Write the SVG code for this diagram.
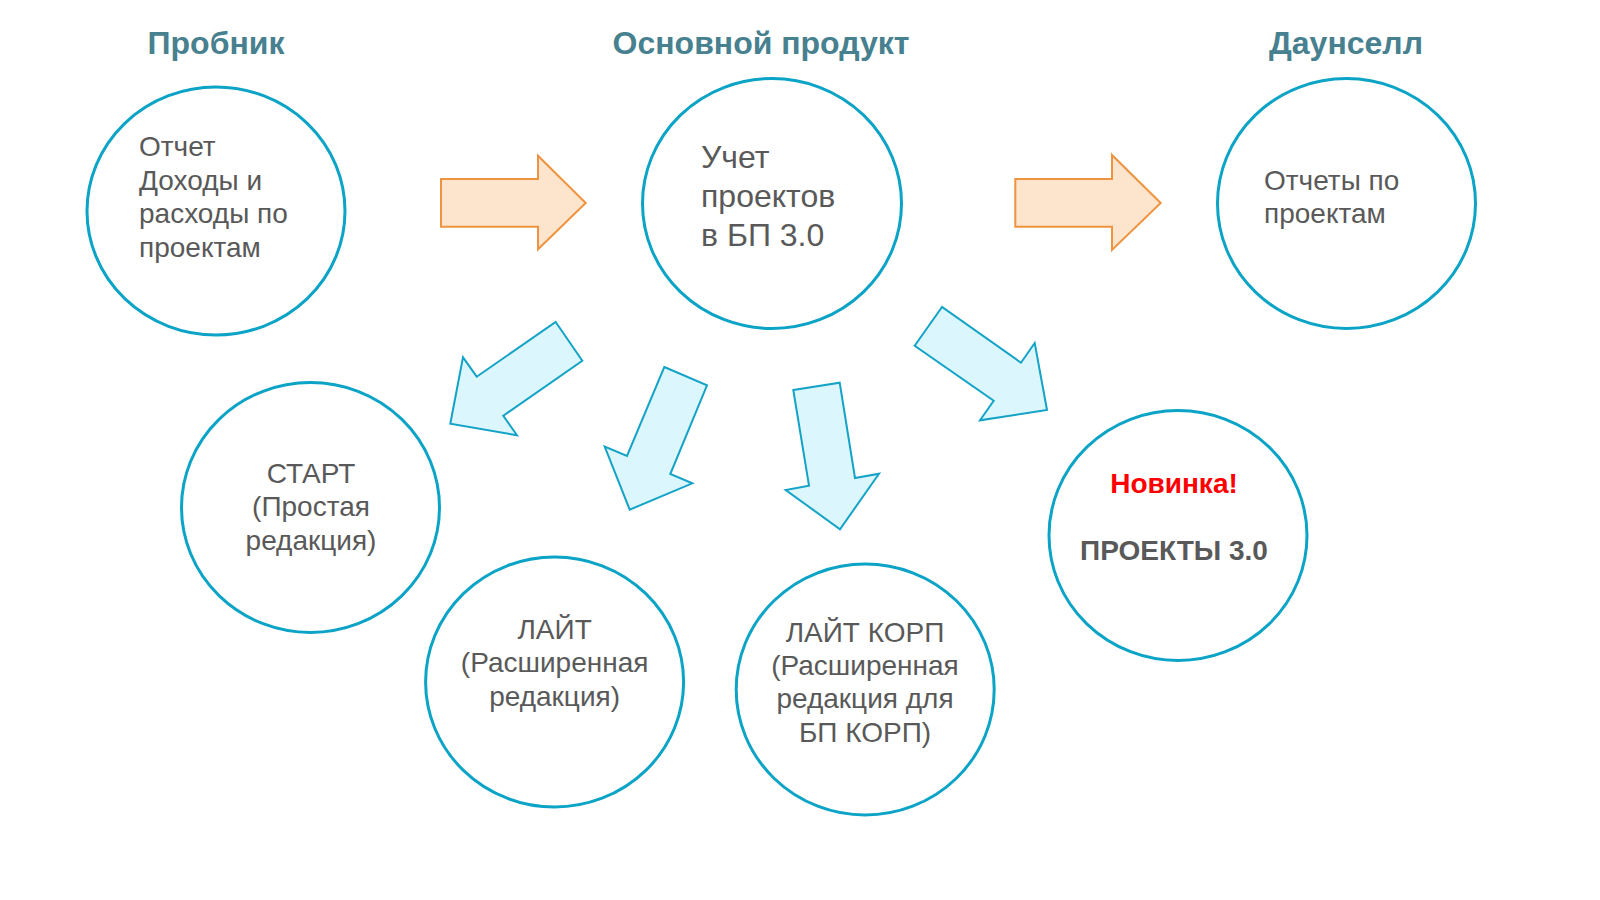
<svg xmlns="http://www.w3.org/2000/svg" width="1600" height="900" viewBox="0 0 1600 900">
<style>
.bg{fill:#ffffff}
.title{font-family:"Liberation Sans",Arial,sans-serif;font-weight:bold;font-size:32px;fill:#47808f;text-anchor:middle}
.node{fill:#ffffff;stroke:#0ba3c6;stroke-width:3}
.t{font-family:"Liberation Sans",Arial,sans-serif;font-size:28px;fill:#595959}
.tm{font-family:"Liberation Sans",Arial,sans-serif;font-size:32px;fill:#595959}
.c{text-anchor:middle}
.b{font-weight:bold}
.red{fill:#ff0000}
.oa{fill:#fce4cd;stroke:#ee9440;stroke-width:2;stroke-linejoin:miter}
.ba{fill:#dbf7fd;stroke:#14a3c7;stroke-width:2;stroke-linejoin:miter}
</style>
<rect class="bg" x="0" y="0" width="1600" height="900"/>
<g id="titles">
<text class="title" x="216" y="54">Пробник</text>
<text class="title" x="761" y="54">Основной продукт</text>
<text class="title" x="1346" y="54">Даунселл</text>
</g>
<g id="connectors">
<polygon class="oa" points="441,179 538,179 538,155.7 585.7,203 538,249.3 538,226.7 441,226.7"/>
<polygon class="oa" points="1015.3,179 1112,179 1112,155 1160.7,203 1112,250 1112,226.7 1015.3,226.7"/>
<polygon class="ba" points="555.7,322 582.3,360.7 503.3,415.7 517,435.3 450.3,423.7 463,357.3 476.7,376.7"/>
<polygon class="ba" points="664.3,367 707,385.3 670.3,474 692.3,483.3 629.7,509.7 604.7,446.7 627,456"/>
<polygon class="ba" points="793.3,390 839.7,382.7 855,478 879,473.7 840,529.3 785.7,490 809,485.7"/>
<polygon class="ba" points="942,307 914.7,345.7 993.7,400.7 980,420.3 1047,410 1034.7,343 1021,362.7"/>
</g>
<g id="probnik">
<ellipse class="node" cx="216" cy="211" rx="129" ry="124"/>
<text class="t" x="139" y="156">Отчет</text>
<text class="t" x="139" y="189.5">Доходы и</text>
<text class="t" x="139" y="223">расходы по</text>
<text class="t" x="139" y="256.5">проектам</text>
</g>
<g id="osnovnoy">
<ellipse class="node" cx="772" cy="203.5" rx="129.5" ry="125"/>
<text class="tm" x="701" y="168">Учет</text>
<text class="tm" x="701" y="207">проектов</text>
<text class="tm" x="701" y="246">в БП 3.0</text>
</g>
<g id="daunsell">
<ellipse class="node" cx="1346.5" cy="203.5" rx="129" ry="125"/>
<text class="t" x="1264" y="189.5">Отчеты по</text>
<text class="t" x="1264" y="223">проектам</text>
</g>
<g id="start">
<ellipse class="node" cx="310.5" cy="507.5" rx="129" ry="125"/>
<text class="t c" x="311" y="482.5">СТАРТ</text>
<text class="t c" x="311" y="516">(Простая</text>
<text class="t c" x="311" y="549.5">редакция)</text>
</g>
<g id="lait">
<ellipse class="node" cx="554.6" cy="682" rx="129" ry="125"/>
<text class="t c" x="554.6" y="638.5">ЛАЙТ</text>
<text class="t c" x="554.6" y="672">(Расширенная</text>
<text class="t c" x="554.6" y="705.5">редакция)</text>
</g>
<g id="lait-korp">
<ellipse class="node" cx="865.2" cy="689.5" rx="129" ry="125.5"/>
<text class="t c" x="865" y="641.7">ЛАЙТ КОРП</text>
<text class="t c" x="865" y="675">(Расширенная</text>
<text class="t c" x="865" y="708.3">редакция для</text>
<text class="t c" x="865" y="741.7">БП КОРП)</text>
</g>
<g id="proekty">
<ellipse class="node" cx="1178" cy="535.5" rx="129" ry="125"/>
<text class="t c b red" x="1174" y="493.3">Новинка!</text>
<text class="t c b" x="1174" y="560">ПРОЕКТЫ 3.0</text>
</g>
</svg>
